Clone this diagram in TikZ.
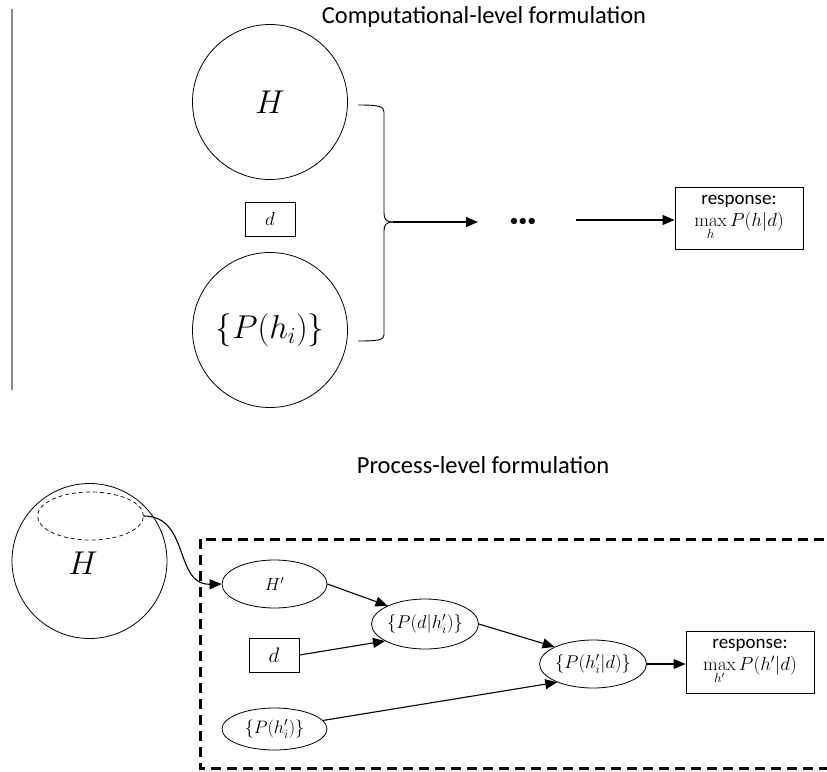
\RequirePackage{fix-cm}
\documentclass[tikz,border=0pt]{standalone}
\usepackage{amsmath}
\usepackage[no-math]{fontspec}
\setmainfont{Carlito}
\usetikzlibrary{arrows.meta,shapes.geometric,calc}
\begin{document}
\begin{tikzpicture}[x=1pt,y=-1pt,
  conn/.style={line width=1.1pt,-{Triangle[length=12pt,width=10pt]}},
  bigcirc/.style={circle,draw,line width=0.8pt,minimum size=155pt,inner sep=0pt},
  ell/.style={ellipse,draw,line width=0.8pt,minimum width=105pt,minimum height=48pt,inner sep=0pt,font=\fontsize{18.5}{20}\selectfont},
  sqbox/.style={rectangle,draw,line width=0.8pt,minimum width=50pt,minimum height=34pt,inner sep=0pt},
  respbox/.style={rectangle,draw,line width=1pt,minimum width=128pt,minimum height=62pt,inner sep=0pt,align=center,font=\fontsize{19}{21}\selectfont},
  ttl/.style={font=\fontsize{24.5}{28}\selectfont},
  brace/.style={line width=0.9pt}]
\useasboundingbox (0,0) rectangle (827,771);

% ---------- top: computational level ----------
\draw[gray!90,line width=2pt] (12,9) -- (12,390);
\node[ttl] (t1) at (484,17) {Computational-level formulation};
\node[bigcirc] (H) at (270,102) {\fontsize{33}{36}\selectfont$H$};
\node[sqbox,font=\fontsize{19}{21}\selectfont] (d) at (270,219) {$d$};
\node[bigcirc] (P) at (270,330) {\fontsize{33}{36}\selectfont$\{P(h_i)\}$};

\coordinate (bt) at (358,105);
\coordinate (bb) at (358,341);
\coordinate (tip) at (393,222);
\draw[brace] (bt) .. controls (378,105) and (384,106) .. (384,112) -- (384,213)
  .. controls (384,219) and (386,222) .. (tip);
\draw[brace] (bb) .. controls (378,341) and (384,340) .. (384,335) -- (384,231)
  .. controls (384,225) and (386,222) .. (tip);

\node[font=\fontsize{16}{18}\selectfont,inner sep=0pt] (dots) at (523,222) {$\bullet\!\bullet\!\bullet$};
\coordinate (dl) at (478,222);
\coordinate (dr) at (576,220);
\draw[conn] (tip) -- (dl);
\node[respbox] (resp) at (739,218) {response:\\[1pt]$\max\limits_{h} P(h|d)$};
\draw[conn] (dr) -- (resp.west |- dr);

% ---------- bottom: process level ----------
\node[ttl] (t2) at (483,465) {Process-level formulation};
\node[bigcirc] (H2) at (89.5,561) {};
\node[font=\fontsize{33}{36}\selectfont] (H2lab) at (83,563) {$H$};
\node[ellipse,draw,line width=0.7pt,dash pattern=on 4pt off 3pt,minimum width=106pt,minimum height=48pt,inner sep=0pt] (sub) at (90.5,516) {};

\draw[line width=3pt,dash pattern=on 10pt off 6pt] (840,539) -- (200,539) -- (200,768) -- (840,768);

\node[ell,font=\fontsize{17.5}{19}\selectfont] (Hp) at (274.5,584) {$H'$};
\node[sqbox,font=\fontsize{21}{23}\selectfont] (d2) at (274,655) {$d$};
\node[ell,minimum height=42pt,font=\fontsize{18}{20}\selectfont] (Ph) at (274.5,729) {$\{P(h_i')\}$};
\node[ell,minimum height=50pt] (Pdh) at (425,624) {$\{P(d|h_i')\}$};
\node[ell,minimum width=106pt] (Phd) at (593,664) {$\{P(h_i'|d)\}$};
\node[respbox] (resp2) at (750,662) {response:\\[1pt]$\max\limits_{h'} P(h'|d)$};

\draw[conn] (sub.east) .. controls (190,516) and (174,585) .. (Hp.west);
\draw[conn] (Hp.east) -- (Pdh.154);
\draw[conn] (d2.east) -- (Pdh.203);
\draw[conn] (Pdh.east) -- (Phd.156);
\draw[conn] (Ph.10) -- (Phd.207);
\draw[conn] (Phd.east) -- (resp2.west |- Phd.east);
\end{tikzpicture}
\end{document}
